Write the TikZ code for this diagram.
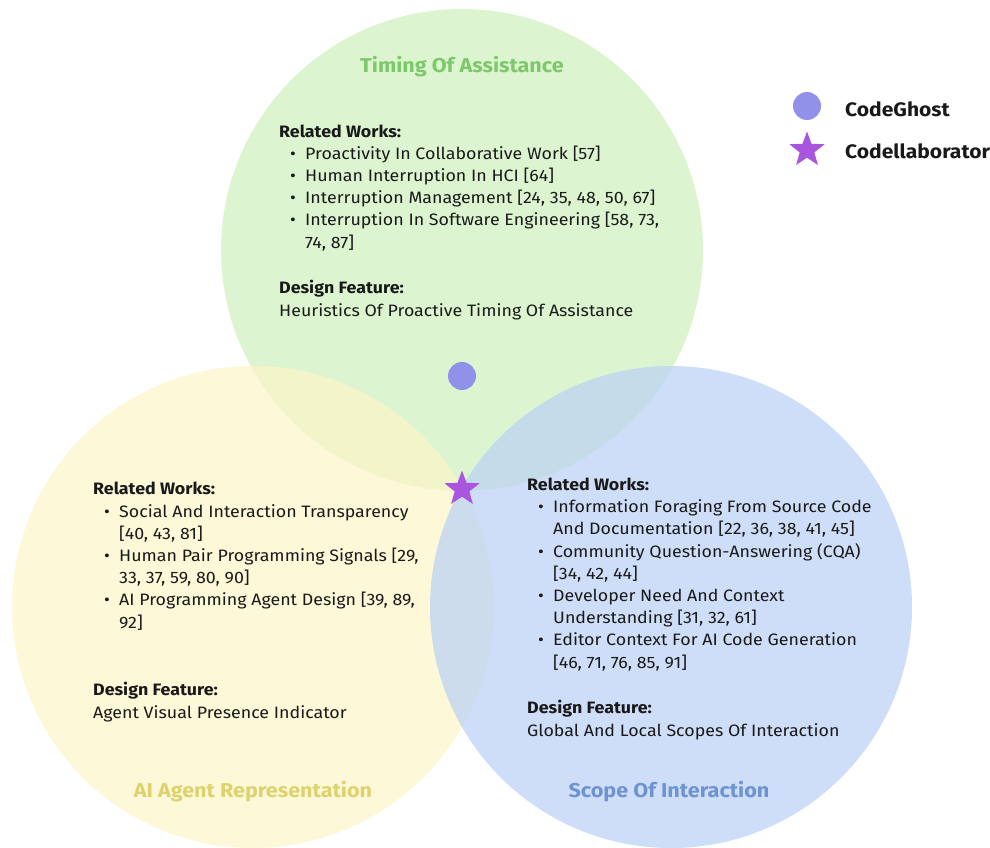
\documentclass[tikz,border=0pt]{standalone}
\usepackage{fontspec}
\setmainfont{Fira Sans}[FakeStretch=1.08]
\usetikzlibrary{shapes.geometric}

\definecolor{timefill}{RGB}{205,241,188}
\definecolor{agentfill}{RGB}{251,245,199}
\definecolor{scopefill}{RGB}{186,208,245}
\definecolor{timetext}{RGB}{125,200,106}
\definecolor{agenttext}{RGB}{222,210,110}
\definecolor{scopetext}{RGB}{109,147,208}
\definecolor{ghostblue}{RGB}{145,145,234}
\definecolor{starpurple}{RGB}{170,85,221}
\definecolor{ink}{RGB}{25,25,25}

\newcommand{\itm}{\hspace*{11pt}\makebox[15pt][l]{\textbullet}}
\newcommand{\cnt}{\hspace*{26pt}}

\begin{document}
\begin{tikzpicture}[x=1pt, y={(0pt,-1pt)}, >=latex]

  \tikzstyle{venn}=[circle, minimum size=482pt, inner sep=0, fill opacity=0.7]
  \tikzstyle{title}=[anchor=base, inner sep=0, font=\fontsize{20}{24}\selectfont\bfseries]
  % anchored at the baseline of the last line
  \tikzstyle{works}=[anchor=base west, inner sep=0, align=left, text=ink, font=\fontsize{16.5}{22.2}\selectfont]
  \tikzstyle{legend}=[anchor=base west, inner sep=0, text=ink, font=\fontsize{19.5}{24}\selectfont\bfseries]
  \tikzstyle{ghost}=[circle, fill=ghostblue, inner sep=0, minimum size=28pt]
  \tikzstyle{clab}=[star, star points=5, star point ratio=2.4, fill=starpurple, inner sep=0, minimum size=37pt]

  \useasboundingbox (0,0) rectangle (990,848);

  % the three circles
  \node[venn, fill=timefill] (timing) at (462,250) {};
  \node[venn, fill=agentfill] (agent) at (253,607) {};
  \node[venn, fill=scopefill] (scope) at (671,607) {};

  \node[title, text=timetext] (timing-t) at (462,73) {Timing Of Assistance};
  \node[title, text=agenttext] (agent-t) at (253,797) {AI Agent Representation};
  \node[title, text=scopetext] (scope-t) at (669,797) {Scope Of Interaction};

  % timing of assistance
  \node[works] (timing-rw) at (279,248) {\textbf{Related Works:}\\
    \itm Proactivity In Collaborative Work [57]\\
    \itm Human Interruption In HCI [64]\\
    \itm Interruption Management [24, 35, 48, 50, 67]\\
    \itm Interruption In Software Engineering [58, 73,\\
    \cnt 74, 87]};
  \node[works] (timing-df) at (279,316) {\textbf{Design Feature:}\\
    Heuristics Of Proactive Timing Of Assistance};

  % ai agent representation
  \node[works] (agent-rw) at (93,628) {\textbf{Related Works:}\\
    \itm Social And Interaction Transparency\\
    \cnt [40, 43, 81]\\
    \itm Human Pair Programming Signals [29,\\
    \cnt 33, 37, 59, 80, 90]\\
    \itm AI Programming Agent Design [39, 89,\\
    \cnt 92]};
  \node[works] (agent-df) at (93,718) {\textbf{Design Feature:}\\
    Agent Visual Presence Indicator};

  % scope of interaction
  \node[works] (scope-rw) at (527,668) {\textbf{Related Works:}\\
    \itm Information Foraging From Source Code\\
    \cnt And Documentation [22, 36, 38, 41, 45]\\
    \itm Community Question-Answering (CQA)\\
    \cnt [34, 42, 44]\\
    \itm Developer Need And Context\\
    \cnt Understanding [31, 32, 61]\\
    \itm Editor Context For AI Code Generation\\
    \cnt [46, 71, 76, 85, 91]};
  \node[works] (scope-df) at (527,736) {\textbf{Design Feature:}\\
    Global And Local Scopes Of Interaction};

  % markers
  \node[ghost] (ghost) at (462,376) {};
  \node[clab] (cllab) at (462,489) {};

  % legend
  \node[ghost] (lg-ghost) at (807,106) {};
  \node[clab] (lg-cllab) at (807,150) {};
  \node[legend] (lg-ghost-t) at (845,117) {CodeGhost};
  \node[legend] (lg-cllab-t) at (845,158) {Codellaborator};

\end{tikzpicture}
\end{document}
